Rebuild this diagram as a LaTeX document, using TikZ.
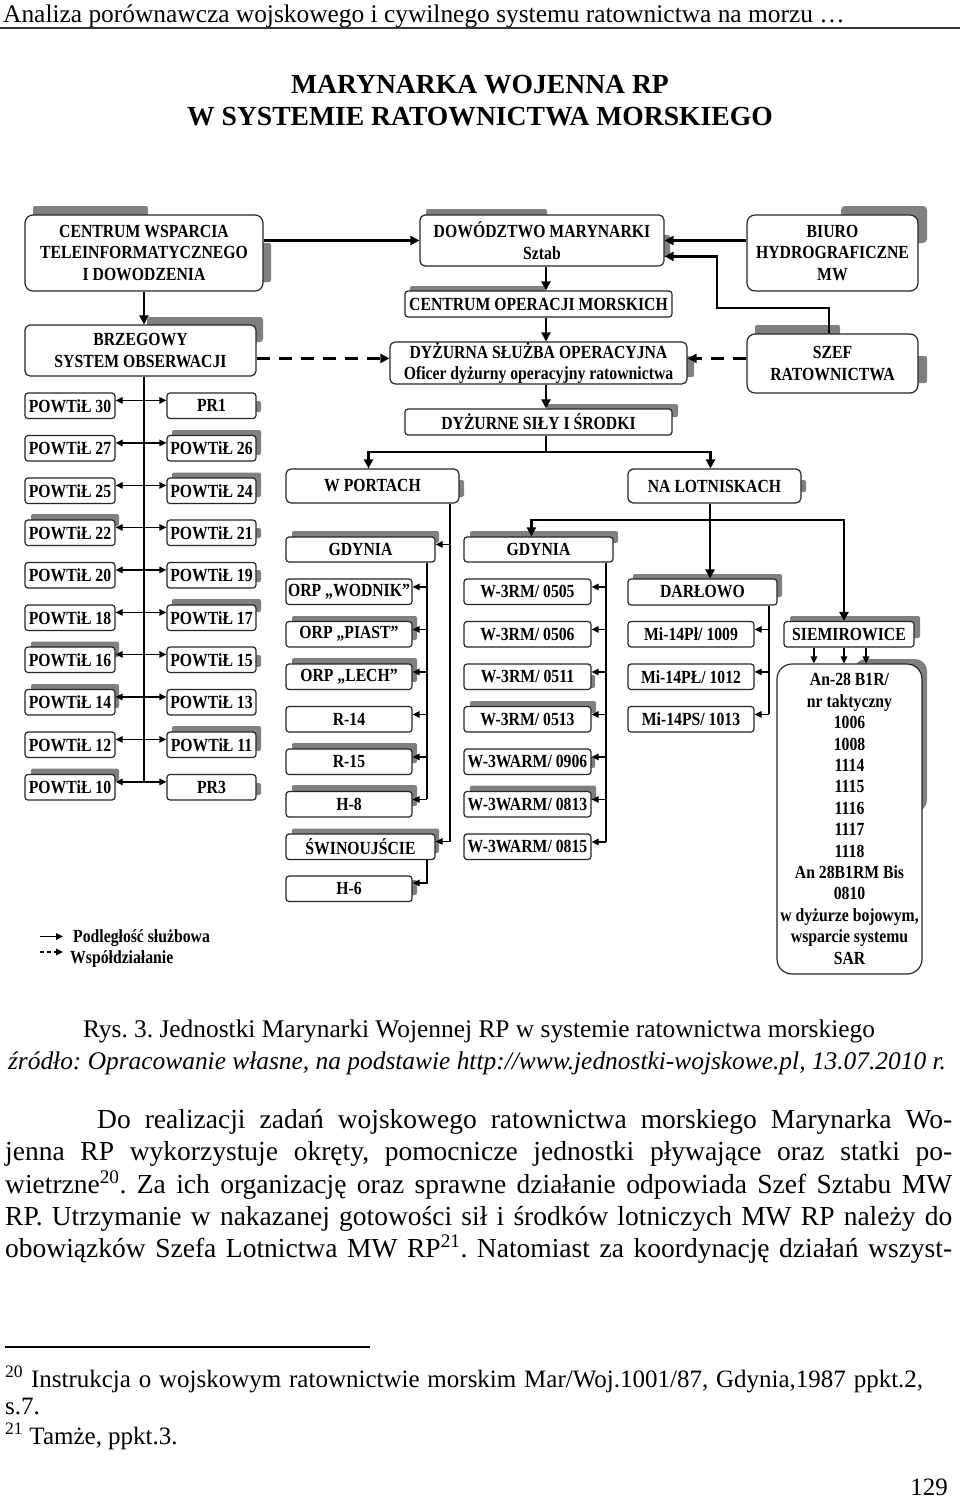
\documentclass[tikz,border=0pt]{standalone}
\usepackage{fontspec}
\setmainfont{Liberation Serif}
\newfontfamily\condfont{Liberation Serif}[FakeStretch=0.85]
\usetikzlibrary{arrows.meta,calc}
\definecolor{shdc}{RGB}{128,128,128}
\frenchspacing
\tikzset{
  box/.style={draw=black!85, line width=1.2pt, fill=white, rounded corners=3pt, inner sep=0pt, align=center,
    font=\condfont\bfseries\fontsize{18.5}{21.4}\selectfont},
  lgd/.style={inner sep=0pt, font=\condfont\bfseries\fontsize{18.5}{21.4}\selectfont},
  thk/.style={line width=2.4pt},
  thn/.style={line width=1.2pt},
  med/.style={line width=1.5pt},
  dsh/.style={line width=2.4pt, dash pattern=on 13pt off 9pt},
  ahk/.style={-{Triangle[length=9pt,width=9pt]}},
  ahn/.style={-{Triangle[length=7pt,width=6.5pt]}},
  ahnb/.style={{Triangle[length=7pt,width=6.5pt]}-{Triangle[length=7pt,width=6.5pt]}},
  txt/.style={inner sep=0pt},
}
\newcommand\bx[7][]{\node[box,minimum width={#5-#3},minimum height={#6-#4},#1] (#2) at ({(#3+#5)/2},{(#4+#6)/2}) {#7};}
\newcommand\shd[5][2pt]{\fill[shdc, rounded corners=#1] (#2,#3) rectangle (#4,#5);}
\begin{document}
\frenchspacing
\begin{tikzpicture}[x=1pt,y=-1pt]
\fill[white] (0,0) rectangle (960,1501);
\useasboundingbox (0,0) rectangle (960,1501);

% header and title
\node[txt, anchor=base west, font=\fontsize{25.4}{30}\selectfont] (hdr) at (3,23) {Analiza porównawcza wojskowego i cywilnego systemu ratownictwa na morzu …};
\draw[line width=2pt, black!80] (0,28.5) -- (960,28.5);
\node[txt, anchor=base, font=\bfseries\fontsize{27.6}{32}\selectfont] (t1) at (480,93.5) {MARYNARKA WOJENNA RP};
\node[txt, anchor=base, font=\bfseries\fontsize{27.6}{32}\selectfont] (t2) at (480,125.5) {W SYSTEMIE RATOWNICTWA MORSKIEGO};

% shadows
\shd{33}{206}{148}{222}
\shd{250}{243}{271}{282}
\shd{426}{209}{547}{222}
\shd{655}{235}{670}{257}
\shd[4pt]{841}{206}{927}{243}
\shd{410}{286}{545}{298}
\shd[3pt]{147}{317}{263}{342}
\shd{680}{356}{694}{377}
\shd{755}{325}{840}{340}
\shd{910}{356}{927}{383}
\shd{547}{404}{678}{417}
\shd{450}{480}{464}{497}
\shd{795}{480}{806}{492}
\shd{250}{401}{261}{412}
\shd{172}{430}{261}{455}
\shd{172}{472.5}{261}{497}
\shd{31}{514}{119}{526}
\shd{250}{528}{261}{538}
\shd{250}{570}{261}{582}
\shd{172}{599}{261}{612}
\shd{31}{641.5}{119}{657}
\shd{250}{655}{261}{667}
\shd{31}{684}{119}{708}
\shd{172}{726}{261}{751}
\shd{31}{768.5}{119}{781}
\shd{250}{783}{261}{795}
\shd{292}{531}{439}{543}
\shd{470}{531}{618}{543}
\shd{292}{616}{417}{640}
\shd{292}{658}{417}{682}
\shd{292}{743}{417}{763}
\shd{292}{785}{417}{806}
\shd{292}{828.5}{439}{853}
\shd{407}{880}{417}{895}
\shd{586}{675}{595}{688}
\shd{470}{701}{596}{713}
\shd{586}{757}{595}{768}
\shd{470}{785.5}{596}{800}
\shd{633}{574}{782}{597}
\shd{790}{616}{920}{638}
\shd[12pt]{854}{659}{927}{812}

% top boxes
\bx[rounded corners=8pt]{cw}{25}{215}{263}{291}{CENTRUM WSPARCIA\\TELEINFORMATYCZNEGO\\I DOWODZENIA}
\bx[rounded corners=5pt]{dow}{420}{215}{664}{266}{DOWÓDZTWO MARYNARKI\\Sztab}
\bx[rounded corners=8pt]{biuro}{747}{215}{918}{291}{BIURO\\HYDROGRAFICZNE\\MW}
\bx{com}{405}{291}{672}{317}{CENTRUM OPERACJI MORSKICH}
\bx[rounded corners=5pt]{bso}{25}{325}{256}{376}{BRZEGOWY\\SYSTEM OBSERWACJI}
\bx[rounded corners=5pt]{dso}{390}{342}{687}{384}{DYŻURNA SŁUŻBA OPERACYJNA\\Oficer dyżurny operacyjny ratownictwa}
\bx[rounded corners=8pt]{szef}{747}{334}{918}{393}{SZEF\\RATOWNICTWA}
\bx{dsis}{405}{409}{672}{435}{DYŻURNE SIŁY I ŚRODKI}
\bx[rounded corners=5pt]{wp}{286}{469}{459}{503}{W PORTACH}
\bx[rounded corners=5pt]{nl}{628}{469}{801}{503}{NA LOTNISKACH}

% left block
\foreach \t/\a/\b [count=\i] in {393/POWTiŁ 30/PR1, 435.5/POWTiŁ 27/POWTiŁ 26, 478/POWTiŁ 25/POWTiŁ 24, 520/POWTiŁ 22/POWTiŁ 21, 562.5/POWTiŁ 20/POWTiŁ 19, 605/POWTiŁ 18/POWTiŁ 17, 647/POWTiŁ 16/POWTiŁ 15, 689.5/POWTiŁ 14/POWTiŁ 13, 732/POWTiŁ 12/POWTiŁ 11, 774.5/POWTiŁ 10/PR3}
{\bx{L\i}{25}{\t}{115}{\t+25.5}{\a}\bx{R\i}{167}{\t}{256}{\t+25.5}{\b}}

% ports
\bx{gdp}{286}{537}{435}{562}{GDYNIA}
\foreach \t/\a [count=\i] in {579/ORP „WODNIK”, 621.5/ORP „PIAST”, 664/ORP „LECH”, 706.5/R-14, 749/R-15, 791.5/H-8}
{\bx{P\i}{286}{\t}{412}{\t+25.5}{\a}}
\bx{swi}{286}{834}{435}{859.5}{ŚWINOUJŚCIE}
\bx{h6}{286}{876}{412}{901.5}{H-6}

% airfields
\bx{gda}{464}{537}{613}{562}{GDYNIA}
\foreach \t/\a [count=\i] in {579/{W-3RM/ 0505}, 621.5/{W-3RM/ 0506}, 664/{W-3RM/ 0511}, 706.5/{W-3RM/ 0513}, 749/{W-3WARM/ 0906}, 791.5/{W-3WARM/ 0813}, 834/{W-3WARM/ 0815}}
{\bx{A\i}{464}{\t}{591}{\t+25.5}{\a}}
\bx{dar}{628}{579}{777}{605}{DARŁOWO}
\bx{M1}{628}{621.5}{754}{647}{Mi-14Pł/ 1009}
\bx{M2}{628}{664}{754}{689.5}{Mi-14PŁ/ 1012}
\bx{M3}{628}{706.5}{754}{732}{Mi-14PS/ 1013}
\bx{siem}{784}{621.5}{914}{647}{SIEMIROWICE}
\bx[rounded corners=15pt]{big}{777}{664}{922}{974}{An-28 B1R/\\nr taktyczny\\1006\\1008\\1114\\1115\\1116\\1117\\1118\\An 28B1RM Bis\\0810\\w dyżurze bojowym,\\wsparcie systemu\\SAR}

% thick connectors
\draw[thk,ahk] (cw.east |- dow.west) -- (dow.west);
\draw[thk,ahk] (cw.south) -- (cw.south |- bso.north);
\draw[thk,ahk] (biuro.west |- dow.east) -- (dow.east);
\coordinate (szx) at (829,0);
\coordinate (sz1) at (717,308);
\coordinate (sz2) at ($(dow.north east)+(0,42)$);
\draw[thk,ahk] (szef.north -| szx) |- (sz1) |- (sz2);
\coordinate (mx) at (546,0);
\draw[thk,ahk] (dow.south -| mx) -- (com.north -| mx);
\draw[thk,ahk] (com.south -| mx) -- (dso.north -| mx);
\draw[thk,ahk] (dso.south -| mx) -- (dsis.north -| mx);
\coordinate (j1) at (546,452);
\draw[thk] (dsis.south -| mx) -- (j1);
\draw[thk,ahk] (j1) -| ($(wp.north)+(-4,0)$);
\draw[thk,ahk] (j1) -| ($(nl.north)+(-4,0)$);
\coordinate (nx) at (710,0);
\coordinate (j2) at (710,520);
\draw[thk,ahk] (nl.south -| nx) -- (dar.north -| nx);
\draw[thk,ahk] (j2) -| ($(gda.north west)+(68,0)$);
\draw[thk,ahk] (j2) -| ($(siem.north)+(-5,0)$);

% dashed connectors
\coordinate (d1) at ($(dso.north west)+(0,17)$);
\coordinate (d2) at ($(dso.north east)+(0,17)$);
\draw[dsh,ahk] (bso.east |- d1) -- (d1);
\draw[dsh,ahk] (szef.west |- d2) -- (d2);

% thin connectors: left block
\draw[thn] (bso.south -| cw.south) -- ($(L10.north -| cw.south)+(0,8)$);
\foreach \i in {1,...,10}
  \draw[thn,ahnb] ($(L\i.north east)+(0,8)$) -- ($(R\i.north west)+(0,8)$);

% ports
\coordinate (wpx) at (450,0);
\coordinate (g1) at ($(gdp.north east)+(0,8)$);
\coordinate (g2) at ($(swi.north east)+(0,8)$);
\draw[thn,ahn] (g1 -| wpx) -- (g1);
\draw[thn,ahn] (wp.south -| wpx) |- (g2);
\coordinate (cpx) at (427,0);
\draw[thn] (gdp.south -| cpx) -- ($(P6.north -| cpx)+(0,8.5)$);
\foreach \i in {1,...,6}
  \draw[thn,ahn] ($(P\i.north -| cpx)+(0,8.5)$) -- ($(P\i.north east)+(0,8.5)$);
\coordinate (h6a) at ($(h6.north east)+(0,7.5)$);
\draw[thn,ahn] (swi.south -| cpx) |- (h6a);

% airfields
\coordinate (cax) at (606,0);
\draw[thn] (gda.south -| cax) -- ($(A7.north -| cax)+(0,8.5)$);
\foreach \i in {1,...,7}
  \draw[thn,ahn] ($(A\i.north -| cax)+(0,8.5)$) -- ($(A\i.north east)+(0,8.5)$);
\coordinate (cdx) at (769,0);
\draw[thn] (dar.south -| cdx) -- ($(M3.north -| cdx)+(0,8.5)$);
\foreach \i in {1,2,3}
  \draw[thn,ahn] ($(M\i.north -| cdx)+(0,8.5)$) -- ($(M\i.north east)+(0,8.5)$);
\foreach \x in {814,844,866}{
  \coordinate (sx) at (\x,0);
  \draw[med,ahn] (siem.south -| sx) -- (big.north -| sx);
}

% legend
\node[lgd, anchor=base west] (lg1) at (73,942) {Podległość służbowa};
\node[lgd, anchor=base west] (lg2) at (70,963) {Współdziałanie};
\coordinate (la1) at (40,936.5);
\coordinate (la2) at (40,952);
\draw[line width=1.8pt, ahn] (la1) -- ++(23,0);
\draw[line width=1.5pt, dash pattern=on 4pt off 3pt, ahn] (la2) -- ++(23,0);

% caption
\node[txt, anchor=base, font=\fontsize{25.4}{30}\selectfont] (cap1) at (479,1037) {Rys. 3. Jednostki Marynarki Wojennej RP w systemie ratownictwa morskiego};
\node[txt, anchor=base, font=\itshape\fontsize{25.4}{30}\selectfont] (cap2) at (477,1069) {źródło: Opracowanie własne, na podstawie http://www.jednostki-wojskowe.pl, 13.07.2010 r.};

% body
\begin{scope}[every node/.style={txt, anchor=base west, font=\fontsize{27.5}{32}\selectfont}]
\node (b1) at (97,1128) {\makebox[855pt][s]{Do realizacji zadań wojskowego ratownictwa morskiego Marynarka Wo-}};
\node (b2) at (5,1160) {\makebox[947pt][s]{jenna RP wykorzystuje okręty, pomocnicze jednostki pływające oraz statki po-}};
\node (b3) at (5,1193) {\makebox[947pt][s]{wietrzne\textsuperscript{20}. Za ich organizację oraz sprawne działanie odpowiada Szef Sztabu MW}};
\node (b4) at (5,1225) {\makebox[947pt][s]{RP. Utrzymanie w nakazanej gotowości sił i środków lotniczych MW RP należy do}};
\node (b5) at (5,1257) {\makebox[947pt][s]{obowiązków Szefa Lotnictwa MW RP\textsuperscript{21}. Natomiast za koordynację działań wszyst-}};
\end{scope}

% footnotes
\draw[line width=1.5pt] (5,1347) -- (370,1347);
\begin{scope}[every node/.style={txt, anchor=base west, font=\fontsize{25}{27}\selectfont}]
\node (f1) at (5,1387) {\makebox[918pt][s]{\textsuperscript{20} Instrukcja o wojskowym ratownictwie morskim Mar/Woj.1001/87, Gdynia,1987 ppkt.2,}};
\node (f2) at (5,1414) {s.7.};
\node (f3) at (5,1444) {\textsuperscript{21} Tamże, ppkt.3.};
\node[anchor=base east] (pg) at (948,1495) {129};
\end{scope}
\end{tikzpicture}
\end{document}
